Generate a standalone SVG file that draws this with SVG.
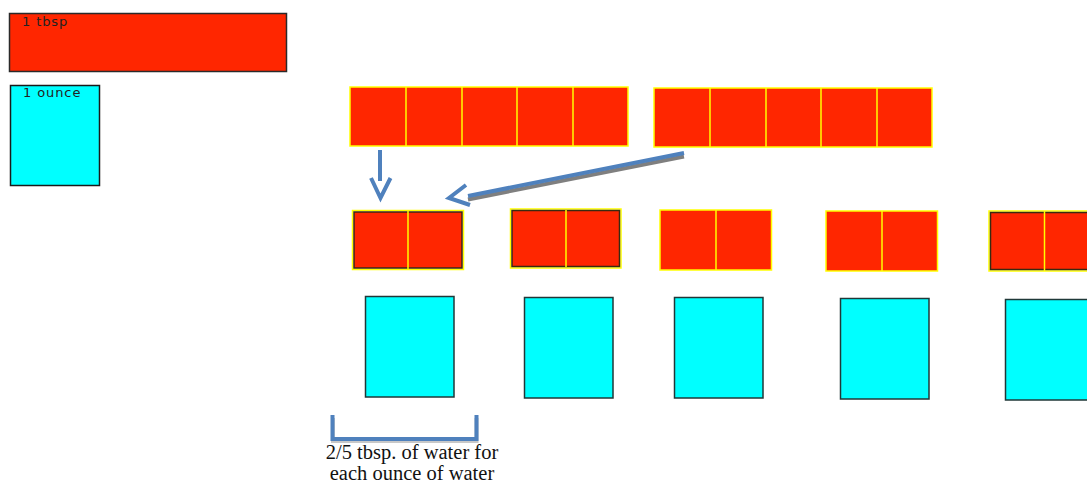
<svg xmlns="http://www.w3.org/2000/svg" width="1087" height="482" viewBox="0 0 1087 482">
<style>
.red{fill:#ff2600;stroke:#ffff00;stroke-width:1.5}
.redb{fill:#ff2600;stroke:#3a2a10;stroke-width:1.5}
.div{stroke:#ffff00;stroke-width:1.5}
.cy{fill:#00ffff;stroke:#203838;stroke-width:1.5}
.lbl{font-family:"DejaVu Sans",sans-serif;font-size:13px;fill:#222;letter-spacing:0.9px}
.cap{font-family:"Liberation Serif",serif;font-size:20.5px;fill:#111}
.arr{fill:none;stroke:#4f81bd;stroke-width:4}
.sh{fill:none;stroke:#7f7f7f;stroke-width:4}
</style>
<rect width="1087" height="482" fill="#fff"/>
<g id="tbsp">
<rect x="9.5" y="13.5" width="277" height="58" fill="#ff2600" stroke="#2a2a2a" stroke-width="1.5"/>
<text class="lbl" x="22" y="26">1 tbsp</text>
</g>
<g id="ounce">
<rect x="10.5" y="85.5" width="89" height="100" fill="#00ffff" stroke="#1a1a1a" stroke-width="1.5"/>
<text class="lbl" x="23" y="97">1 ounce</text>
</g>
<g id="row1a">
<rect class="red" x="350" y="87" width="278" height="59"/>
<line class="div" x1="406" y1="87" x2="406" y2="146"/>
<line class="div" x1="462" y1="87" x2="462" y2="146"/>
<line class="div" x1="517" y1="87" x2="517" y2="146"/>
<line class="div" x1="573" y1="87" x2="573" y2="146"/>
</g>
<g id="row1b">
<rect class="red" x="654" y="88" width="278" height="59"/>
<line class="div" x1="710" y1="88" x2="710" y2="147"/>
<line class="div" x1="766" y1="88" x2="766" y2="147"/>
<line class="div" x1="821" y1="88" x2="821" y2="147"/>
<line class="div" x1="877" y1="88" x2="877" y2="147"/>
</g>
<g id="pair1">
<rect x="352.5" y="210.5" width="111" height="59" fill="none" stroke="#ffff00" stroke-width="1.5"/>
<rect class="redb" x="354" y="212" width="108" height="56"/>
<line class="div" x1="408" y1="211" x2="408" y2="269"/>
</g>
<g id="pair2">
<rect x="510.5" y="209" width="110.5" height="59" fill="none" stroke="#ffff00" stroke-width="1.5"/>
<rect class="redb" x="512" y="210.5" width="107.5" height="56"/>
<line class="div" x1="566" y1="210" x2="566" y2="267"/>
</g>
<g id="pair3">
<rect class="red" x="660" y="210" width="111.5" height="60"/>
<line class="div" x1="716" y1="210" x2="716" y2="270"/>
</g>
<g id="pair4">
<rect class="red" x="826" y="211" width="111.5" height="60"/>
<line class="div" x1="882" y1="211" x2="882" y2="271"/>
</g>
<g id="pair5">
<rect x="989" y="211" width="110" height="60" fill="none" stroke="#ffff00" stroke-width="1.5"/>
<rect class="redb" x="990.5" y="212.5" width="110" height="57"/>
<line class="div" x1="1044.5" y1="211" x2="1044.5" y2="271"/>
</g>
<g id="oz1"><rect class="cy" x="365.5" y="296.5" width="88.5" height="100.5"/></g>
<g id="oz2"><rect class="cy" x="524.5" y="297.5" width="88.5" height="100.5"/></g>
<g id="oz3"><rect class="cy" x="674.5" y="297.5" width="88.5" height="100.5"/></g>
<g id="oz4"><rect class="cy" x="840.5" y="298.5" width="88.5" height="100.5"/></g>
<g id="oz5"><rect class="cy" x="1005.5" y="299.5" width="88.5" height="100.5"/></g>
<g id="connectors">
<line class="arr" x1="380" y1="150" x2="380" y2="181"/>
<polyline class="arr" points="371,178 380.5,198 390.5,178"/>
<line class="sh" x1="684" y1="156.5" x2="468" y2="199.5" stroke-width="5"/>
<line class="arr" x1="684" y1="153" x2="468" y2="196" stroke-width="5"/>
<polyline class="arr" points="466,185 449,198 470,205"/>
<polyline points="333,416 333,439 476.5,439 476.5,416" fill="none" stroke="#c8c8c8" stroke-width="4" transform="translate(0,2)"/>
<polyline points="332.5,415 332.5,439 476.5,439 476.5,415" fill="none" stroke="#4f81bd" stroke-width="4"/>
</g>
<g id="caption">
<text class="cap" x="412" y="458.5" text-anchor="middle">2/5 tbsp. of water for</text>
<text class="cap" x="412" y="479.5" text-anchor="middle">each ounce of water</text>
</g>
</svg>
